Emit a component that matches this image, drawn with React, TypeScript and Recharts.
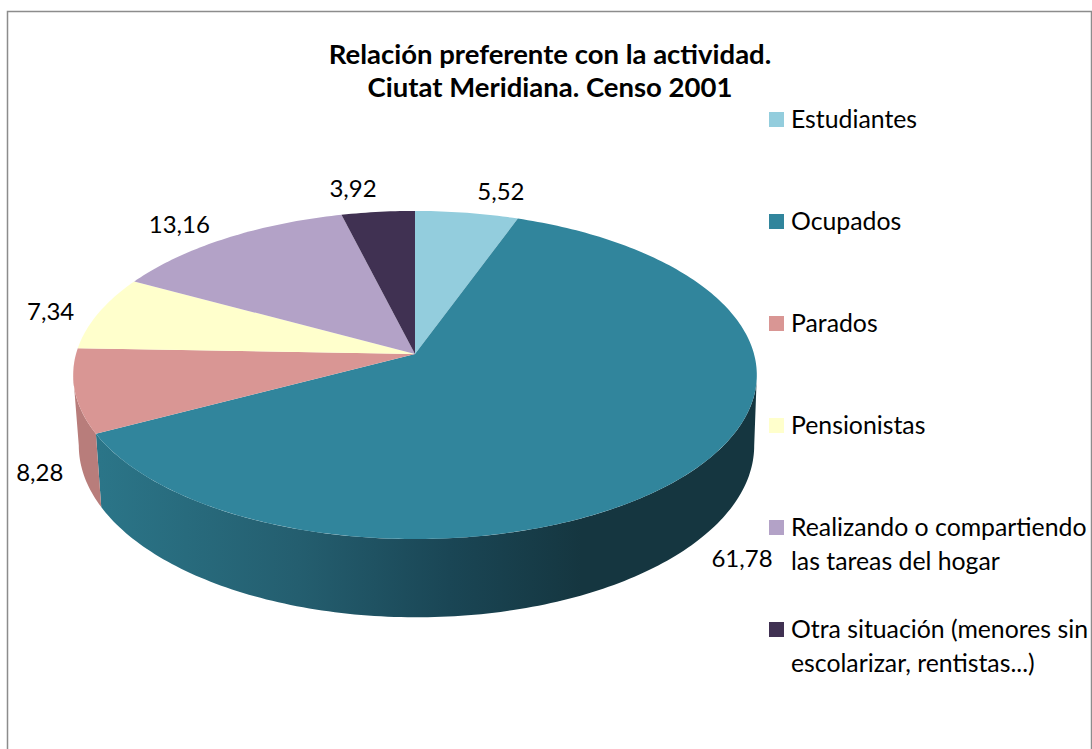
import { Legend, Pie, PieChart } from "recharts";

const NAMES = [
  "Estudiantes",
  "Ocupados",
  "Parados",
  "Pensionistas",
  "Realizando o compartiendo\nlas tareas del hogar",
  "Otra situación (menores sin\nescolarizar, rentistas...)",
];
const VALUES = [5.52, 61.78, 8.28, 7.34, 13.16, 3.92];
const COLORS = ["#93cddd", "#31859c", "#d99694", "#ffffcc", "#b3a2c7", "#403152"];
const SIDE_COLORS = ["#6f9ba8", "url(#ocupadosSide)", "#b87d7b", "#c0c09a", "#8a7c99", "#2f243d"];
const TITLE_LINES = ["Relación preferente con la actividad.", "Ciutat Meridiana. Censo 2001"];

const tableData = NAMES.map((name, i) => ({ name, value: VALUES[i], fill: COLORS[i] }));

const FONT = "Lato, Carlito, sans-serif";

// Perspective of the tilted disc, fitted to the picture
const TILT = 0.128;
const FLATTEN = 0.476;
const BOTTOM_SCALE = 0.988;
const BOTTOM_DX = 1.5;
const BOTTOM_DY = 69.5;
const BOTTOM_FLATTEN = 0.4985;

// Label offset from the disc edge at the middle of its slice
const LABEL_NUDGE = [
  [34, -22],
  [48, 88],
  [-35, 81],
  [-48, -2],
  [-47, -15],
  [-25, -24],
];

const rad = (deg: number) => (deg * Math.PI) / 180;

function topPoint(cx: number, cy: number, r: number, deg: number) {
  const u = Math.cos(rad(deg));
  const v = Math.sin(rad(deg));
  const w = 1 + TILT * v;
  return [cx + (r * u) / w, cy - (r * FLATTEN * v) / w];
}

function bottomPoint(cx: number, cy: number, r: number, deg: number) {
  const u = Math.cos(rad(deg));
  const v = Math.sin(rad(deg));
  const w = 1 + TILT * v;
  const rb = r * BOTTOM_SCALE;
  return [cx + BOTTOM_DX + (rb * u) / w, cy + BOTTOM_DY - (r * BOTTOM_FLATTEN * v) / w];
}

function sampleAngles(from: number, to: number) {
  const steps = Math.max(2, Math.ceil(Math.abs(to - from)));
  return Array.from({ length: steps + 1 }, (_, i) => from + ((to - from) * i) / steps);
}

const toPath = (pts: number[][]) =>
  pts.map((p, i) => `${i ? "L" : "M"}${p[0].toFixed(2)} ${p[1].toFixed(2)}`).join(" ") + " Z";

function Slab(props: any) {
  const { cx, cy, outerRadius, startAngle, endAngle, fill, index } = props;
  const hi = Math.max(startAngle, endAngle);
  const lo = Math.min(startAngle, endAngle);
  const top = sampleAngles(startAngle, endAngle).map((a) => topPoint(cx, cy, outerRadius, a));

  // Only the front of the rim is visible, between the two side tangents
  const sideHi = Math.min(hi, -7.35);
  const sideLo = Math.max(lo, -172.65);
  let rim = null;
  if (sideHi > sideLo) {
    const angles = sampleAngles(sideHi, sideLo);
    const upper = angles.map((a) => topPoint(cx, cy, outerRadius, a));
    const lower = angles.slice().reverse().map((a) => bottomPoint(cx, cy, outerRadius, a));
    rim = <path d={toPath([...upper, ...lower])} fill={SIDE_COLORS[index]} stroke="none" />;
  }

  return (
    <g>
      {rim}
      <path d={toPath([[cx, cy], ...top])} fill={fill} stroke="none" />
    </g>
  );
}

function renderLabel(props: any) {
  const { cx, cy, outerRadius, midAngle, index, value } = props;
  const [x, y] = topPoint(cx, cy, outerRadius, midAngle);
  const [dx, dy] = LABEL_NUDGE[index];
  return (
    <text
      x={x + dx}
      y={y + dy}
      textAnchor="middle"
      dominantBaseline="central"
      fontFamily={FONT}
      fontSize={24}
      fill="#000"
    >
      {value.toFixed(2).replace(".", ",")}
    </text>
  );
}

function renderLegend(props: any) {
  const items = props.payload ?? [];
  return (
    <div style={{ position: "relative", fontFamily: FONT, fontSize: 24.8, lineHeight: "34px", color: "#000" }}>
      {items.map((item: any, i: number) => (
        <div key={i} style={{ position: "absolute", left: 0, top: i * 102, width: 323 }}>
          <span
            style={{
              position: "absolute",
              left: 0,
              top: 10,
              width: 15,
              height: 15,
              background: COLORS[i],
            }}
          />
          <div style={{ marginLeft: 22, whiteSpace: "pre-line" }}>{item.value}</div>
        </div>
      ))}
    </div>
  );
}

export default function App() {
  return (
    <div style={{ position: "absolute", left: 0, top: 0, width: 1092, height: 749, overflow: "hidden", background: "#fff" }}>
      <PieChart width={1092} height={749} margin={{ top: 0, right: 0, bottom: 0, left: 0 }}>
        <defs>
          <linearGradient id="ocupadosSide" gradientUnits="userSpaceOnUse" x1={100} y1={0} x2={760} y2={0}>
            <stop offset="0%" stopColor="#2b7588" />
            <stop offset="30%" stopColor="#245e6f" />
            <stop offset="53%" stopColor="#1a4655" />
            <stop offset="73%" stopColor="#153640" />
            <stop offset="100%" stopColor="#153640" />
          </linearGradient>
        </defs>
        <rect x={7.5} y={11.5} width={1084} height={800} fill="none" stroke="#8c8c8c" strokeWidth={1.5} />
        {TITLE_LINES.map((line, i) => (
          <text
            key={line}
            x={550}
            y={53 + i * 33}
            textAnchor="middle"
            dominantBaseline="central"
            fontFamily={FONT}
            fontSize={27.5}
            fontWeight={700}
            fill="#000"
          >
            {line}
          </text>
        ))}
        <Pie
          data={tableData}
          dataKey="value"
          nameKey="name"
          cx={415}
          cy={354}
          innerRadius={0}
          outerRadius={339}
          startAngle={90}
          endAngle={-270}
          paddingAngle={0}
          stroke="none"
          shape={Slab}
          label={renderLabel}
          labelLine={false}
          isAnimationActive={false}
        />
        <Legend
          layout="vertical"
          align="right"
          verticalAlign="top"
          itemSorter={null}
          content={renderLegend}
          wrapperStyle={{ left: 769, top: 102, width: 323, right: "auto" }}
        />
      </PieChart>
    </div>
  );
}
